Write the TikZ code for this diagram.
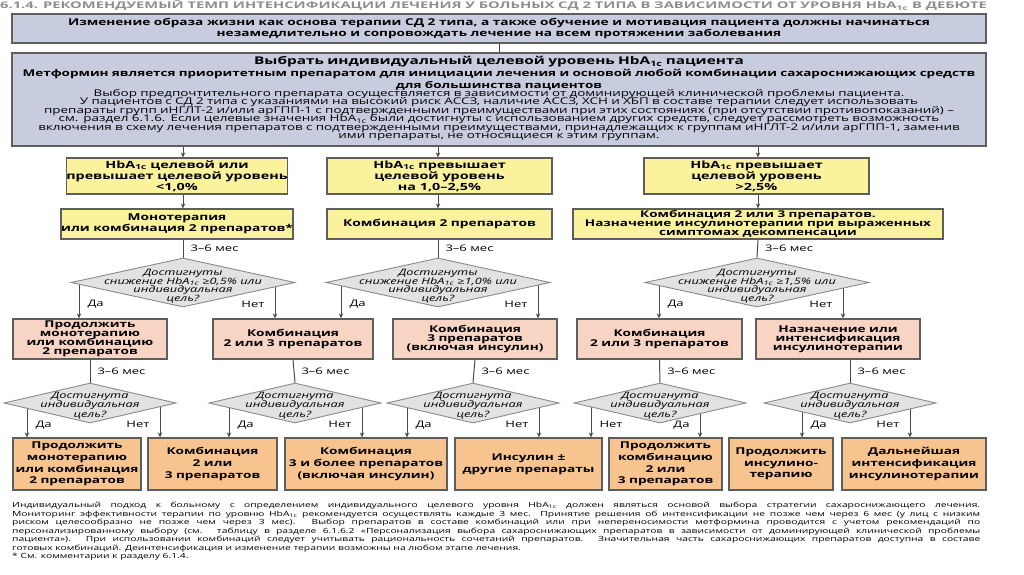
\documentclass[tikz,border=0pt]{standalone}
\usepackage{fontspec}
\setmainfont{Open Sans}[FakeStretch=1.45]
\newfontfamily\titlefont{Open Sans}[FakeStretch=1.6]
\usetikzlibrary{backgrounds,arrows.meta,shapes.geometric}
\definecolor{blu}{HTML}{C8CCDF}
\definecolor{yel}{HTML}{FBF29E}
\definecolor{diafill}{HTML}{E1E2E4}
\definecolor{diaedge}{HTML}{8A8A8A}
\definecolor{sal}{HTML}{F8D4C4}
\definecolor{ora}{HTML}{F7C38E}
\definecolor{edge}{HTML}{5E5E5E}
\definecolor{conn}{HTML}{4A4A4A}
\definecolor{ttl}{HTML}{8E8E8E}
\lineskiplimit=-100pt
\normallineskiplimit=-100pt
\newcommand\tightlines{\lineskiplimit=-100pt\lineskip=0pt\relax}
\newcommand\hba{HbA\textsubscript{1c}}
\newcommand\placebox[7]{\node[#1,minimum width={#5-#3},minimum height={#6-#4}] (#2) at ({(#3+#5)/2},{(#4+#6)/2}) {#7};}
\begin{document}
\begin{tikzpicture}[x=1pt,y=-1pt,
  bx/.style={draw=edge,line width=1.3pt,inner sep=0pt,align=center},
  bluebox/.style={bx,fill=blu},
  ybox/.style={bx,fill=yel,font=\bfseries\fontsize{9.9}{11}\selectfont\tightlines},
  ybbox/.style={bx,fill=yel,font=\bfseries\fontsize{9.5}{11.2}\selectfont\tightlines},
  sbox/.style={bx,fill=sal,font=\bfseries\fontsize{9.4}{9.1}\selectfont\tightlines},
  obox/.style={bx,fill=ora,font=\bfseries\fontsize{9.4}{11.7}\selectfont\tightlines},
  dia/.style={shape=diamond,draw=diaedge,fill=diafill,line width=0.9pt,inner sep=0pt},
  dtext/.style={align=center,inner sep=0pt,yshift=-3.5pt,font=\itshape\fontsize{8.8}{8.6}\selectfont\tightlines},
  dtextb/.style={align=center,inner sep=0pt,yshift=-2.5pt,font=\itshape\fontsize{8.8}{9.3}\selectfont\tightlines},
  arr/.style={draw=conn,line width=1pt,-{Stealth[length=5pt,width=4.5pt]}},
  ln/.style={draw=conn,line width=1pt},
  lbl/.style={inner sep=0pt,font=\fontsize{9}{9}\selectfont},
  dalbl/.style={lbl,anchor=west,xshift=8pt},
  netlbl/.style={lbl,anchor=east,xshift=-10pt},
  meslbl/.style={lbl,anchor=west,xshift=7pt},
]
\useasboundingbox (0,0) rectangle (1024,574);

% title
\node[anchor=base west,inner sep=0pt,text=ttl,font=\titlefont\bfseries\fontsize{9.2}{10}\selectfont] (title) at (0,8.5)
  {6.1.4. РЕКОМЕНДУЕМЫЙ ТЕМП ИНТЕНСИФИКАЦИИ ЛЕЧЕНИЯ У БОЛЬНЫХ СД 2 ТИПА В ЗАВИСИМОСТИ ОТ УРОВНЯ \hba{} В ДЕБЮТЕ};

% top boxes
\placebox{bluebox,font=\bfseries\fontsize{9.4}{11.5}\selectfont\tightlines}{box1}{12}{14}{986}{43}
  {Изменение образа жизни как основа терапии СД 2 типа, а также обучение и мотивация пациента должны начинаться\\незамедлительно и сопровождать лечение на всем протяжении заболевания}
\placebox{bluebox}{box2}{12}{53}{986}{146}{}
\node[inner sep=0pt,text width=1000pt,align=center,anchor=north,font=\tightlines] (box2t) at (499,56.5)
  {\tightlines{\bfseries\fontsize{10.6}{14}\selectfont\tightlines Выбрать индивидуальный целевой уровень \hba{} пациента\par}
   {\bfseries\fontsize{9.3}{11.6}\selectfont\tightlines Метформин является приоритетным препаратом для инициации лечения и основой любой комбинации сахароснижающих средств\\для большинства пациентов\par}
   {\fontsize{9.25}{8.4}\selectfont\tightlines Выбор предпочтительного препарата осуществляется в зависимости от доминирующей клинической проблемы пациента.\\
   У пациентов с СД 2 типа с указаниями на высокий риск АССЗ, наличие АССЗ, ХСН и ХБП в составе терапии следует использовать\\
   препараты групп иНГЛТ-2 и/или арГПП-1 с подтвержденными преимуществами при этих состояниях (при отсутствии противопоказаний) –\\
   см. раздел 6.1.6. Если целевые значения \hba{} были достигнуты с использованием других средств, следует рассмотреть возможность\\
   включения в схему лечения препаратов с подтвержденными преимуществами, принадлежащих к группам иНГЛТ-2 и/или арГПП-1, заменив\\
   ими препараты, не относящиеся к этим группам.\par}};

% yellow row
\placebox{ybox}{y1}{68}{158}{286}{194}{\hba{} целевой или\\превышает целевой уровень\\<1,0\%}
\placebox{ybox}{y2}{327}{158}{552}{194}{\hba{} превышает\\целевой уровень\\на 1,0–2,5\%}
\placebox{ybox}{y3}{644}{158}{869}{194}{\hba{} превышает\\целевой уровень\\>2,5\%}
\placebox{ybbox}{y1b}{68}{209}{286}{239}{Монотерапия\\или комбинация 2 препаратов*}
\placebox{ybbox}{y2b}{327}{209}{552}{239}{Комбинация 2 препаратов}
\placebox{ybbox,font=\bfseries\fontsize{9.3}{8.7}\selectfont\tightlines}{y3b}{573}{209}{943}{239}{Комбинация 2 или 3 препаратов.\\Назначение инсулинотерапии при выраженных\\симптомах декомпенсации}

% first diamonds
\node[dia,minimum width=224pt,minimum height=49pt] (d1) at (183,282.5) {};
\node[dia,minimum width=224pt,minimum height=49pt] (d2) at (438,282.5) {};
\node[dia,minimum width=224pt,minimum height=49pt] (d3) at (757,282.5) {};
\node[dtext] (d1t) at (d1) {Достигнуты\\снижение \hba{} ≥0,5\% или\\индивидуальная\\цель?};
\node[dtext] (d2t) at (d2) {Достигнуты\\снижение \hba{} ≥1,0\% или\\индивидуальная\\цель?};
\node[dtext] (d3t) at (d3) {Достигнуты\\снижение \hba{} ≥1,5\% или\\индивидуальная\\цель?};

% salmon row
\placebox{sbox}{p1}{13}{319}{167}{359}{Продолжить\\монотерапию\\или комбинацию\\2 препаратов}
\placebox{sbox}{p2}{213}{319}{373}{359}{Комбинация\\2 или 3 препаратов}
\placebox{sbox}{p3}{393}{319}{557}{359}{Комбинация\\3 препаратов\\(включая инсулин)}
\placebox{sbox}{p4}{577}{319}{742}{359}{Комбинация\\2 или 3 препаратов}
\placebox{sbox}{p5}{756}{319}{920}{359}{Назначение или\\интенсификация\\инсулинотерапии}

% second diamonds
\node[dia,minimum width=172pt,minimum height=40pt] (d4) at (90,403) {};
\node[dia,minimum width=172pt,minimum height=40pt] (d5) at (295,403) {};
\node[dia,minimum width=172pt,minimum height=40pt] (d6) at (473,403) {};
\node[dia,minimum width=172pt,minimum height=40pt] (d7) at (660,403) {};
\node[dia,minimum width=172pt,minimum height=40pt] (d8) at (850,403) {};
\foreach \d in {d4,d5,d6,d7,d8}
  \node[dtextb] (\d t) at (\d) {Достигнута\\индивидуальная\\цель?};

% orange row
\placebox{obox}{q1}{13}{438}{141}{490}{Продолжить\\монотерапию\\или комбинация\\2 препаратов}
\placebox{obox}{q2}{148}{438}{277}{490}{Комбинация\\2 или\\3 препаратов}
\placebox{obox}{q3}{285}{438}{447}{490}{Комбинация\\3 и более препаратов\\(включая инсулин)}
\placebox{obox}{q4}{455}{438}{602}{490}{Инсулин ±\\другие препараты}
\placebox{obox}{q5}{609}{438}{722}{490}{Продолжить\\комбинацию\\2 или\\3 препаратов}
\placebox{obox}{q6}{729}{438}{833}{490}{Продолжить\\инсулино-\\терапию}
\placebox{obox}{q7}{842}{438}{986}{490}{Дальнейшая\\интенсификация\\инсулинотерапии}

% footer
\node[anchor=north west,inner sep=0pt,align=left,font=\fontsize{7.1}{8.55}\selectfont\tightlines] (foot) at (12,502)
  {\makebox[968pt][s]{Индивидуальный подход к больному с определением индивидуального целевого уровня \hba{} должен являться основой выбора стратегии сахароснижающего лечения.}\\
   \makebox[968pt][s]{Мониторинг эффективности терапии по уровню \hba{} рекомендуется осуществлять каждые 3 мес. Принятие решения об интенсификации не позже чем через 6 мес (у лиц с низким}\\
   \makebox[968pt][s]{риском целесообразно не позже чем через 3 мес). Выбор препаратов в составе комбинаций или при непереносимости метформина проводится с учетом рекомендаций по}\\
   \makebox[968pt][s]{персонализированному выбору (см. таблицу в разделе 6.1.6.2 «Персонализация выбора сахароснижающих препаратов в зависимости от доминирующей клинической проблемы}\\
   \makebox[968pt][s]{пациента»). При использовании комбинаций следует учитывать рациональность сочетаний препаратов. Значительная часть сахароснижающих препаратов доступна в составе}\\
   готовых комбинаций. Деинтенсификация и изменение терапии возможны на любом этапе лечения.\\
   * См. комментарии к разделу 6.1.4.};

% connectors
\coordinate (c1) at (183,0);
\coordinate (c2) at (438,0);
\coordinate (c3) at (758,0);
\begin{scope}[on background layer]
\draw[ln] (box1.south) -- (box1.south |- box2.north);
\draw[arr] (c1 |- box2.south) -- (c1 |- y1.north);
\draw[arr] (c2 |- box2.south) -- (c2 |- y2.north);
\draw[arr] (c3 |- box2.south) -- (c3 |- y3.north);
\draw[arr] (c1 |- y1.south) -- (c1 |- y1b.north);
\draw[arr] (c2 |- y2.south) -- (c2 |- y2b.north);
\draw[arr] (c3 |- y3.south) -- (c3 |- y3b.north);
\draw[ln] (c1 |- y1b.south) -- node[meslbl]{3–6 мес} (d1.north);
\draw[ln] (c2 |- y2b.south) -- node[meslbl]{3–6 мес} (d2.north);
\draw[ln] (c3 |- y3b.south) -- node[meslbl]{3–6 мес} (d3.north);
% diamond row 1 exits
\draw[arr] ([xshift=-104pt]d1.center) -- node[dalbl,pos=0.6]{Да} ([xshift=-104pt]d1.center |- p1.north);
\draw[arr] ([xshift=92pt]d1.center) -- node[netlbl,pos=0.6]{Нет} ([xshift=92pt]d1.center |- p2.north);
\draw[arr] ([xshift=-97pt]d2.center) -- node[dalbl,pos=0.6]{Да} ([xshift=-97pt]d2.center |- p2.north);
\draw[arr] ([xshift=100pt]d2.center) -- node[netlbl,pos=0.6]{Нет} ([xshift=100pt]d2.center |- p3.north);
\draw[arr] ([xshift=-98pt]d3.center) -- node[dalbl,pos=0.6]{Да} ([xshift=-98pt]d3.center |- p4.north);
\draw[arr] ([xshift=86pt]d3.center) -- node[netlbl,pos=0.6]{Нет} ([xshift=86pt]d3.center |- p5.north);
% row 2 to diamonds
\draw[ln] (p1.south) -- node[meslbl]{3–6 мес} (d4.north);
\draw[ln] (p2.south) -- node[meslbl]{3–6 мес} (d5.north);
\draw[ln] (p3.south) -- node[meslbl]{3–6 мес} (d6.north);
\draw[ln] (p4.south) -- node[meslbl]{3–6 мес} (d7.north);
\draw[ln] (d8.north |- p5.south) -- node[meslbl]{3–6 мес} (d8.north);
% diamond row 2 exits
\draw[arr] ([xshift=-63pt]d4.center) -- node[dalbl,pos=0.63]{Да} ([xshift=-63pt]d4.center |- q1.north);
\draw[arr] ([xshift=70pt]d4.center) -- node[netlbl,pos=0.63]{Нет} ([xshift=70pt]d4.center |- q2.north);
\draw[arr] ([xshift=-66pt]d5.center) -- node[dalbl,pos=0.63]{Да} ([xshift=-66pt]d5.center |- q2.north);
\draw[arr] ([xshift=67pt]d5.center) -- node[netlbl,pos=0.63]{Нет} ([xshift=67pt]d5.center |- q3.north);
\draw[arr] ([xshift=-66pt]d6.center) -- node[dalbl,pos=0.63]{Да} ([xshift=-66pt]d6.center |- q3.north);
\draw[arr] ([xshift=66pt]d6.center) -- node[netlbl,pos=0.63]{Нет} ([xshift=66pt]d6.center |- q4.north);
\draw[arr] ([xshift=-69pt]d7.center) -- node[dalbl,pos=0.63]{Нет} ([xshift=-69pt]d7.center |- q4.north);
\draw[arr] ([xshift=40pt]d7.center) -- node[netlbl,pos=0.63]{Да} ([xshift=40pt]d7.center |- q5.north);
\draw[arr] ([xshift=-48pt]d8.center) -- node[dalbl,pos=0.63]{Да} ([xshift=-48pt]d8.center |- q6.north);
\draw[arr] ([xshift=60pt]d8.center) -- node[netlbl,pos=0.63]{Нет} ([xshift=60pt]d8.center |- q7.north);
\end{scope}
\end{tikzpicture}
\end{document}
